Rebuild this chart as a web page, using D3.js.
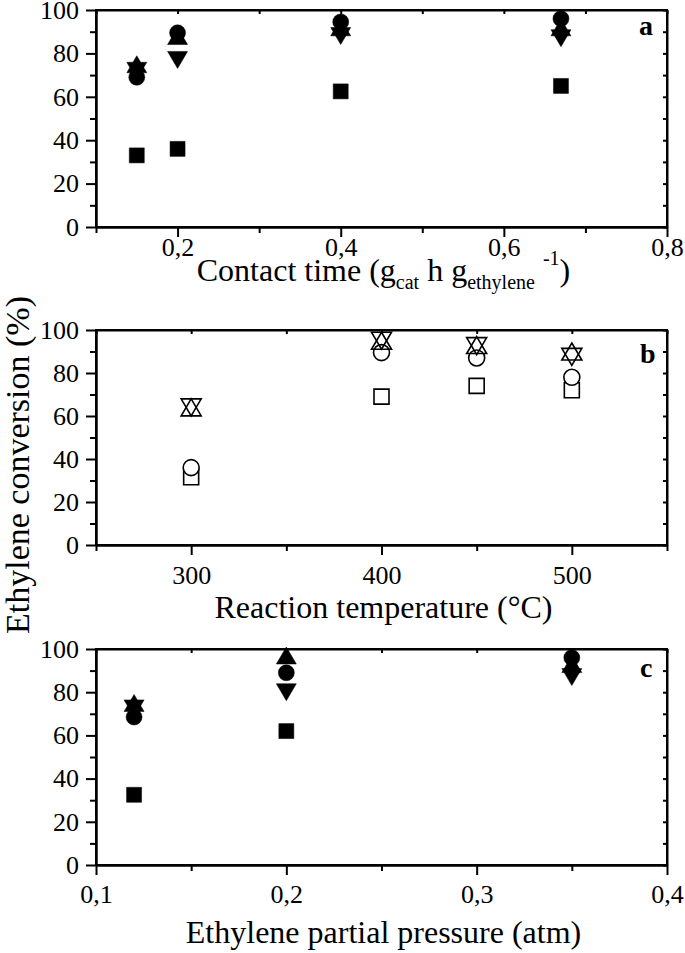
<!DOCTYPE html>
<html>
<head>
<meta charset="utf-8">
<script src="https://cdn.jsdelivr.net/npm/d3@7"></script>
<style>
  body { margin: 0; background: #fff; }
  svg { display: block; }
  text { font-family: "Liberation Serif", "Times New Roman", serif; fill: #000; }
</style>
</head>
<body>
<script>
// ethylene conversion, three panels

var width = 685;
var height = 953;

// panel a - contact time
var contactTime = [0.15, 0.2, 0.4, 0.67];
var aSquare = [33, 36, 62.5, 65];
var aCircle = [69, 89.5, 94.5, 96];
var aUp = [75, 88, 92, 92];
var aDown = [72, 77, 88, 87];

// panel b - reaction temperature
var temperature = [300, 400, 450, 500];
var bSquare = [31.5, 69, 74, 72];
var bCircle = [36, 89.5, 87, 78];
var bUp = [64, 95, 93, 90];
var bDown = [64, 95, 92.5, 87.5];

// panel c - ethylene partial pressure
var pressure = [0.12, 0.2, 0.35];
var cSquare = [32.5, 62, null];
var cCircle = [68.5, 89, 96];
var cUp = [75, 97, 93];
var cDown = [72.5, 80, 87];

// ticks
var yMajor = [0, 20, 40, 60, 80, 100];
var yMinor = [10, 30, 50, 70, 90];
var aMajor = [0.2, 0.4, 0.6, 0.8], aMinor = [0.1, 0.3, 0.5, 0.7];
var bMajor = [300, 400, 500], bMinor = [250, 350, 450, 550];
var cMajor = [0.1, 0.2, 0.3, 0.4], cMinor = [0.15, 0.25, 0.35];

var left = 96, right = 667;

var svg = d3.select("body").append("svg")
  .attr("width", width)
  .attr("height", height);

var comma = function(d){ return d3.format(".1f")(d).replace(".", ","); };

var shapes = {
  square: "M-7.5,-7.5h15v15h-15Z",
  circle: d3.symbol().type(d3.symbolCircle).size(Math.PI * 64)(),
  up: "M0,-8.5L10,8.5L-10,8.5Z",
  down: "M0,8.5L10,-8.5L-10,-8.5Z"
};

var panel = function(opt) {
  var x = d3.scaleLinear().domain(opt.domain).range([left, right]);
  var y = d3.scaleLinear().domain([0, 100]).range([opt.bottom, opt.top]);
  var g = svg.append("g");

  // left axis, outward ticks
  g.append("g").attr("transform", "translate(" + left + ",0)")
    .call(d3.axisLeft(y).tickValues(yMajor).tickSize(10).tickPadding(7).tickSizeOuter(0));
  g.append("g").attr("transform", "translate(" + left + ",0)")
    .call(d3.axisLeft(y).tickValues(yMinor).tickSize(6).tickFormat("").tickSizeOuter(0));

  // right axis, inward ticks
  g.append("g").attr("transform", "translate(" + right + ",0)")
    .call(d3.axisLeft(y).tickValues(yMajor.concat(yMinor)).tickSize(4).tickFormat("").tickSizeOuter(0));

  // bottom axis
  g.append("g").attr("transform", "translate(0," + opt.bottom + ")")
    .call(d3.axisBottom(x).tickValues(opt.major).tickSize(10).tickPadding(opt.labelPad).tickFormat(opt.format).tickSizeOuter(0));
  g.append("g").attr("transform", "translate(0," + opt.bottom + ")")
    .call(d3.axisBottom(x).tickValues(opt.minor).tickSize(6).tickFormat("").tickSizeOuter(0));

  // top axis, inward ticks
  g.append("g").attr("transform", "translate(0," + opt.top + ")")
    .call(d3.axisBottom(x).tickValues(opt.major.concat(opt.minor)).tickSize(4).tickFormat("").tickSizeOuter(0));

  g.selectAll(".domain").attr("stroke-width", 2);
  g.selectAll(".tick line").attr("stroke-width", 2);
  g.selectAll(".tick text").attr("fill", "#000")
    .style("font-family", "Liberation Serif").style("font-size", "26px");

  g.append("rect")
    .attr("x", left).attr("y", opt.top)
    .attr("width", right - left).attr("height", opt.bottom - opt.top)
    .attr("fill", "none").attr("stroke", "#000").attr("stroke-width", 2);

  // markers
  opt.series.forEach(function(s) {
    var pts = opt.xs.map(function(v, i){ return {x: v, y: s.values[i]}; })
      .filter(function(d){ return d.y != null; });
    g.selectAll(null).data(pts).enter().append("path")
      .attr("d", shapes[s.shape])
      .attr("transform", function(d){ return "translate(" + x(d.x) + "," + y(d.y) + ")"; })
      .attr("fill", opt.open ? (s.shape === "up" || s.shape === "down" ? "none" : "#fff") : "#000")
      .attr("stroke", "#000")
      .attr("stroke-width", opt.open ? 1.6 : 0.5);
  });

  g.append("text")
    .attr("x", opt.letterX).attr("y", opt.letterY)
    .style("font-size", "28px").style("font-weight", "bold")
    .text(opt.letter);

  var t = g.append("text")
    .attr("x", (left + right) / 2 + 2).attr("y", opt.titleY)
    .attr("text-anchor", "middle")
    .style("font-size", "32px");
  opt.title(t);
};

panel({
  domain: [0.1, 0.8], top: 10, bottom: 227, xs: contactTime,
  major: aMajor, minor: aMinor, format: comma, labelPad: 1,
  letter: "a", letterX: 639, letterY: 35, titleY: 281,
  series: [
    {shape: "square", values: aSquare},
    {shape: "circle", values: aCircle},
    {shape: "up", values: aUp},
    {shape: "down", values: aDown}
  ],
  title: function(t) {
    t.append("tspan").text("Contact time (g");
    t.append("tspan").attr("dy", 8).style("font-size", "20px").text("cat");
    t.append("tspan").attr("dy", -8).text(" h g");
    t.append("tspan").attr("dy", 8).style("font-size", "20px").text("ethylene");
    t.append("tspan").attr("dy", -24).attr("dx", 8).style("font-size", "20px").text("-1");
    t.append("tspan").attr("dy", 16).text(")");
  }
});

panel({
  domain: [250, 550], top: 330, bottom: 545, xs: temperature,
  major: bMajor, minor: bMinor, format: d3.format("d"), labelPad: 11,
  open: true,
  letter: "b", letterX: 640, letterY: 363, titleY: 618,
  series: [
    {shape: "square", values: bSquare},
    {shape: "circle", values: bCircle},
    {shape: "up", values: bUp},
    {shape: "down", values: bDown}
  ],
  title: function(t) { t.text("Reaction temperature (\u00b0C)"); }
});

panel({
  domain: [0.1, 0.4], top: 649, bottom: 865, xs: pressure,
  major: cMajor, minor: cMinor, format: comma, labelPad: 10,
  letter: "c", letterX: 640, letterY: 677, titleY: 943,
  series: [
    {shape: "square", values: cSquare},
    {shape: "circle", values: cCircle},
    {shape: "up", values: cUp},
    {shape: "down", values: cDown}
  ],
  title: function(t) { t.text("Ethylene partial pressure (atm)"); }
});

// shared y title
svg.append("text")
  .attr("transform", "translate(29,465) rotate(-90)")
  .attr("text-anchor", "middle")
  .style("font-size", "34px")
  .text("Ethylene conversion (%)");
</script>
</body>
</html>
